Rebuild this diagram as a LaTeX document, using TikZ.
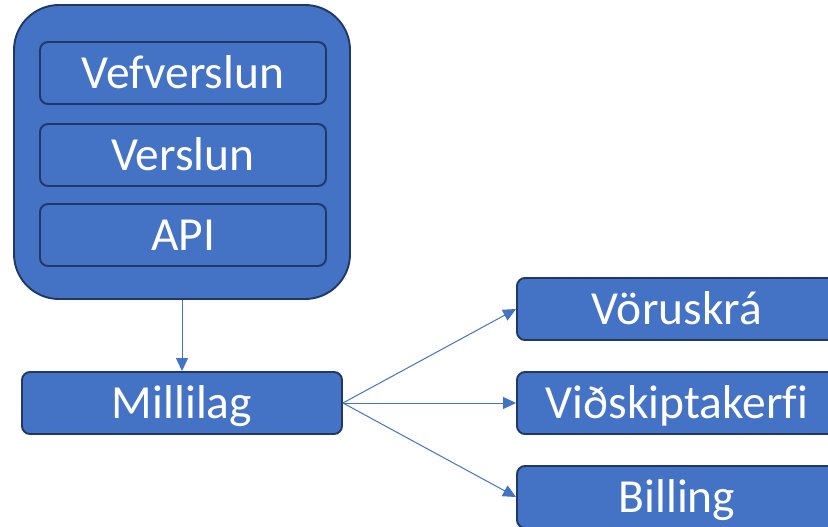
\documentclass[tikz,border=0pt]{standalone}
\usepackage{fontspec}
\setmainfont{Carlito}[Ligatures=NoCommon]
\usetikzlibrary{arrows.meta}
\definecolor{layerblue}{HTML}{4472C4}
\definecolor{layeredge}{HTML}{1F3864}

\begin{document}
\begin{tikzpicture}[x=1pt, y=-1pt,
  layer/.style={draw=layeredge, line width=1.9pt, fill=layerblue, rounded corners=8pt,
    text=white, minimum width=286pt, minimum height=62pt, inner sep=0pt,
    text height=30.5pt, text depth=0pt, font=\fontsize{47.5}{56}\selectfont},
  link/.style={layerblue, line width=1pt, -{Triangle[length=13pt,width=12pt]}}]

\useasboundingbox (0,0) rectangle (828,527);
\clip (0,0) rectangle (828,527);

% Outer block
\node[layer, minimum width=336pt, minimum height=294pt, rounded corners=45pt] (shop) at (182,152) {};

% Layers inside the block
\foreach \y/\name/\label in {73/web/Vefverslun, 155/store/Verslun, 235/api/API} {
    \node[layer] (\name) at (183,\y) {\label};
}

\node[layer, minimum width=320pt] (mid) at (182,403) {Millilag};
\draw[link] (shop.south) -- (mid.north);

% Services on the right
\foreach \y/\name/\label in {309/catalog/Vöruskrá, 403/crm/Viðskiptakerfi, 497/billing/Billing} {
    \node[layer, minimum width=320pt] (\name) at (677,\y) {\label};
    \draw[link] (mid.east) -- (\name.west);
}
\end{tikzpicture}
\end{document}
